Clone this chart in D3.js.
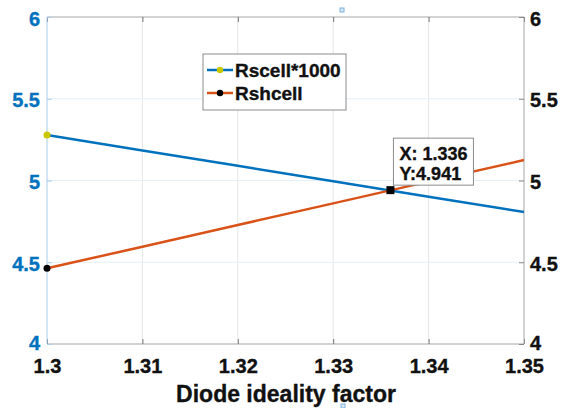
<!DOCTYPE html>
<html>
<head>
<meta charset="utf-8">
<script src="https://cdn.jsdelivr.net/npm/d3@7"></script>
<style>
  html, body { margin: 0; padding: 0; background: #fff; }
  svg { display: block; }
  svg text { font-family: "Liberation Sans", Arial, sans-serif; font-weight: 700; stroke-width: 0.35px; }
</style>
</head>
<body>
<svg id="chart" width="562" height="408"></svg>
<script>
// Diode ideality factor sweep
const idealityFactor = [1.30, 1.31, 1.32, 1.33, 1.34, 1.35];
// Series resistance (scaled x1000) and shunt resistance
const rsCellScaled = [5.278, 5.184, 5.090, 4.995, 4.901, 4.807];
const rshCell      = [4.463, 4.595, 4.728, 4.860, 4.993, 5.125];
const seriesNames  = ["Rscell*1000", "Rshcell"];

// Axis ticks
const xTicks = [1.30, 1.31, 1.32, 1.33, 1.34, 1.35];
const yTicks = [4, 4.5, 5, 5.5, 6];

// Data tip at the crossing point
const tipX = 1.336;
const tipY = 4.941;

const plot = { left: 47, right: 524, top: 17, bottom: 344 };

const svg = d3.select("#chart");

const x = d3.scaleLinear().domain([1.30, 1.35]).range([plot.left, plot.right]);
const yL = d3.scaleLinear().domain([4, 6]).range([plot.bottom, plot.top]);
const yR = d3.scaleLinear().domain([4, 6]).range([plot.bottom, plot.top]);

const blue = "#0072BD", orange = "#D95319", ink = "#111";
const axisGray = "#a6a6a6";

// Grid
const grid = svg.append("g");
grid.selectAll("line.vg").data(xTicks.slice(1, -1)).join("line")
  .attr("x1", d => x(d)).attr("x2", d => x(d))
  .attr("y1", plot.top).attr("y2", plot.bottom)
  .attr("stroke", "#e6e6e6").attr("stroke-width", 1);
grid.selectAll("line.hg").data(yTicks.slice(1, -1)).join("line")
  .attr("x1", plot.left).attr("x2", plot.right)
  .attr("y1", d => yL(d)).attr("y2", d => yL(d))
  .attr("stroke", "#e3eff9").attr("stroke-width", 1);

const tickLen = 5;

function styleLabels(g, color, size) {
  g.attr("font-family", null).attr("font-size", null);
  g.selectAll(".tick text").attr("fill", color).attr("stroke", color).attr("font-size", size);
}

// Bottom axis
const gxb = svg.append("g").attr("transform", `translate(0,${plot.bottom})`)
  .call(d3.axisBottom(x).tickValues(xTicks).tickSize(-tickLen).tickFormat(d3.format(".2~f")));
gxb.select(".domain").attr("stroke", axisGray).attr("d", `M${plot.left},0H${plot.right}`);
gxb.selectAll(".tick line").attr("stroke", "#777");
styleLabels(gxb, ink, 20);
gxb.selectAll(".tick text").attr("dy", null).attr("y", 29);

// Top axis (ticks only)
const gxt = svg.append("g").attr("transform", `translate(0,${plot.top})`)
  .call(d3.axisTop(x).tickValues(xTicks).tickSize(-tickLen).tickFormat(""));
gxt.select(".domain").attr("stroke", axisGray).attr("d", `M${plot.left},0H${plot.right}`);
gxt.selectAll(".tick line").attr("stroke", "#777");

// Right axis (Rshcell)
const gyr = svg.append("g").attr("transform", `translate(${plot.right},0)`)
  .call(d3.axisRight(yR).tickValues(yTicks).tickSize(-tickLen).tickFormat(d3.format("~g")));
gyr.select(".domain").attr("stroke", axisGray).attr("d", `M0,${plot.top}V${plot.bottom}`);
gyr.selectAll(".tick line").attr("stroke", "#888");
styleLabels(gyr, ink, 20);
gyr.selectAll(".tick text").attr("dy", null).attr("y", d => d === 4 ? 5 : 8).attr("x", 6);

// Left axis (Rscell*1000)
const gyl = svg.append("g").attr("transform", `translate(${plot.left},0)`)
  .call(d3.axisLeft(yL).tickValues(yTicks).tickSize(-tickLen).tickFormat(d3.format("~g")));
gyl.select(".domain").attr("stroke", "#a9cdeb").attr("d", `M0,${plot.top}V${plot.bottom}`);
gyl.selectAll(".tick line").attr("stroke", "#a9cdeb");
styleLabels(gyl, blue, 20);
gyl.selectAll(".tick text").attr("dy", null).attr("y", d => d === 4 ? 5 : 8).attr("x", -7);

// X axis title
svg.append("text")
  .attr("x", 286).attr("y", 402)
  .attr("text-anchor", "middle").attr("font-size", 23).attr("fill", ink).attr("stroke", ink)
  .text("Diode ideality factor");

// Series lines
const lineL = d3.line().x((d, i) => x(idealityFactor[i])).y(d => yL(d));
const lineR = d3.line().x((d, i) => x(idealityFactor[i])).y(d => yR(d));

svg.append("path").datum(rsCellScaled).attr("d", lineL)
  .attr("fill", "none").attr("stroke", blue).attr("stroke-width", 2.5);
svg.append("path").datum(rshCell).attr("d", lineR)
  .attr("fill", "none").attr("stroke", orange).attr("stroke-width", 2.5);

// Markers on the first sample of each series
svg.append("circle").attr("cx", x(idealityFactor[0])).attr("cy", yL(rsCellScaled[0]))
  .attr("r", 3.5).attr("fill", "#c9c800");
svg.append("circle").attr("cx", x(idealityFactor[0])).attr("cy", yR(rshCell[0]))
  .attr("r", 3.5).attr("fill", "#000");

// Data tip
const px = x(tipX), py = yR(tipY);
svg.append("rect").attr("x", px - 4).attr("y", py - 4).attr("width", 8).attr("height", 8).attr("fill", "#000");
const tip = svg.append("g").attr("transform", `translate(${px + 3},${py - 52})`);
tip.append("rect").attr("x", 0).attr("y", 0).attr("width", 80).attr("height", 47)
  .attr("fill", "#fff").attr("stroke", "#8c8c8c").attr("stroke-width", 1);
tip.append("text").attr("x", 6).attr("y", 22).attr("font-size", 18).attr("fill", ink).attr("stroke", ink)
  .text(`X: ${tipX}`);
tip.append("text").attr("x", 6).attr("y", 42).attr("font-size", 18).attr("fill", ink).attr("stroke", ink)
  .text(`Y:${tipY}`);

// Legend
const legend = svg.append("g").attr("transform", "translate(203,54)");
legend.append("rect").attr("width", 143).attr("height", 56)
  .attr("fill", "#fff").attr("stroke", "#8c8c8c").attr("stroke-width", 1);
const legendItems = [
  { name: seriesNames[0], color: blue, marker: "#c9c800", y: 16 },
  { name: seriesNames[1], color: orange, marker: "#000", y: 39 }
];
legendItems.forEach(it => {
  legend.append("line").attr("x1", 4).attr("x2", 30).attr("y1", it.y).attr("y2", it.y)
    .attr("stroke", it.color).attr("stroke-width", 2.5);
  legend.append("circle").attr("cx", 17).attr("cy", it.y).attr("r", 3.2).attr("fill", it.marker);
  legend.append("text").attr("x", 32).attr("y", it.y + 7).attr("font-size", 19)
    .attr("fill", ink).attr("stroke", ink)
    .text(it.name);
});

// Small selection handles above and below the axes
[[340, 8], [341, 404]].forEach(([hx, hy]) => {
  svg.append("rect").attr("x", hx).attr("y", hy).attr("width", 4).attr("height", 4)
    .attr("fill", "#d6e8f7").attr("stroke", "#7fb3e0").attr("stroke-width", 1);
});
</script>
</body>
</html>
